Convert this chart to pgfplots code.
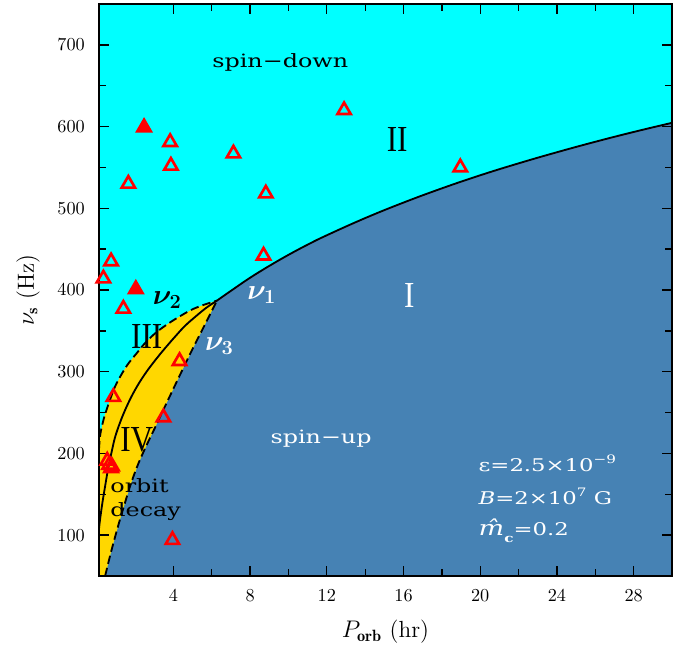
\documentclass[border=0pt]{standalone}
\usepackage{fontspec}
\usepackage{bm}
\usepackage{pgfplots}
\pgfplotsset{compat=1.18}
\newfontfamily\sm{DejaVu Serif}[FakeStretch=1.3]
\newfontfamily\rn{Liberation Serif}[FakeStretch=0.85]
\definecolor{cyanbg}{RGB}{0,255,255}
\definecolor{steel}{RGB}{70,130,180}
\definecolor{gold}{RGB}{255,215,0}

% boundary nu_1 (spin-up / spin-down)
\pgfplotstableread{
x y
6.27 387
7 399
8 415
9 429.5
10 443
11 455.5
12 467
14 488
16 507
18 524.4
20 540.4
22 555
24 568.6
26 581.4
28 593.4
30 604.6
}\nuone
% solid nu_2
\pgfplotstableread{
x y
0.12 108
0.18 120
0.3 140
0.44 160
0.6 182
0.79 203
0.96 220
1.22 238
1.48 253
1.8 269
2.18 285
2.6 300
3.05 314
3.5 327
4.09 343
4.6 356
5.13 367
5.7 378
6.27 387
}\nutwo
% upper dashed edge of the yellow band
\pgfplotstableread{
x y
0.12 205
0.18 222
0.3 236
0.44 248
0.7 266
0.96 282
1.3 297
1.65 310
2.1 323
2.52 335
3.1 348
3.74 359
4.35 368
4.96 376
5.6 382
6.27 387
}\upper
% lower dashed edge nu_3
\pgfplotstableread{
x y
0.44 50
0.7 75
0.96 98
1.2 118
1.48 140
1.8 164
2.18 188
2.6 210
3.05 232
3.57 258
4.26 292
4.96 326
5.65 358
6.27 387
}\nuthree
\pgfplotstableread{
x y
3.83 581
3.87 552
1.65 530
7.13 567
8.82 518
12.9 620
8.7 442
0.75 435
0.35 414
1.39 377
18.96 550
4.32 313
0.87 269
3.48 244
0.55 191
0.65 186
0.8 184
0.75 182
3.95 94
}\opentri
\pgfplotstableread{
x y
2.47 599
2.04 401
}\filledtri

\begin{document}
\begin{tikzpicture}
\begin{axis}[
  scale only axis,
  width=343.8pt, height=343.2pt,
  xmin=0.12, xmax=30, ymin=50, ymax=750,
  xtick={4,8,...,28}, ytick={100,200,...,700},
  minor x tick num=1, minor y tick num=1,
  tick align=inside,
  major tick length=6pt, minor tick length=4pt,
  every tick/.style={black, line width=0.8pt},
  axis line style={line width=1.2pt},
  axis background/.style={fill=cyanbg},
  axis on top,
  tick label style={font=\fontsize{11}{11}\selectfont},
  xticklabel style={yshift=-5pt},
  yticklabel style={xshift=-5pt},
  xlabel={$P_{\mathbf{orb}}$ (hr)},
  ylabel={$\nu_{\mathbf{s}}$ (Hz)},
  xlabel style={at={(axis description cs:0.5,-0.098)}, anchor=center, font=\fontsize{14}{14}\selectfont},
  ylabel style={at={(axis description cs:-0.124,0.5)}, anchor=center, font=\fontsize{14}{14}\selectfont},
]
  % spin-up region
  \addplot[fill=steel, draw=none] coordinates {
    (0.39,45) (0.44,50) (0.7,75) (0.96,98) (1.2,118) (1.48,140) (1.8,164)
    (2.18,188) (2.6,210) (3.05,232) (3.57,258) (4.26,292) (4.96,326)
    (5.65,358) (6.27,387) (7,399) (8,415) (9,429.5) (10,443) (11,455.5)
    (12,467) (14,488) (16,507) (18,524.4) (20,540.4) (22,555) (24,568.6)
    (26,581.4) (28,593.4) (30,604.6) (30.5,607) (30.5,45)
  } -- cycle;
  % orbit decay band
  \addplot[fill=gold, draw=none] coordinates {
    (0,45) (0,200) (0.12,205) (0.18,222) (0.3,236) (0.44,248) (0.7,266)
    (0.96,282) (1.3,297) (1.65,310) (2.1,323) (2.52,335) (3.1,348)
    (3.74,359) (4.35,368) (4.96,376) (5.6,382) (6.27,387)
    (5.65,358) (4.96,326) (4.26,292) (3.57,258) (3.05,232) (2.6,210)
    (2.18,188) (1.8,164) (1.48,140) (1.2,118) (0.96,98) (0.7,75)
    (0.44,50) (0.39,45)
  } -- cycle;

  \addplot[black, line width=1.1pt, smooth, tension=0.7] table {\nuone};
  \addplot[black, line width=1.1pt, smooth, tension=0.6] table {\nutwo};
  \addplot[black, line width=1.1pt, smooth, tension=0.6, dash pattern=on 5pt off 2.5pt] table {\upper};
  \addplot[black, line width=1.1pt, smooth, tension=0.6, dash pattern=on 5pt off 2.5pt] table {\nuthree};

  \node[font=\sm\fontsize{11}{13}\selectfont] at (axis cs:9.57,678) {spin−down};
  \node[font=\sm\fontsize{11}{13}\selectfont, white] at (axis cs:11.7,218) {spin−up};
  \node[font=\sm\fontsize{11}{14.4}\selectfont, align=left, anchor=west, inner sep=0pt]
    at (axis cs:0.70,143) {orbit\\decay};

  \node[font=\rn\fontsize{22}{22}\selectfont] at (axis cs:15.67,584) {II};
  \node[font=\rn\fontsize{22}{22}\selectfont, white] at (axis cs:16.3,393) {I};
  \node[font=\rn\fontsize{22}{22}\selectfont] at (axis cs:2.61,343) {III};
  \node[font=\rn\fontsize{22}{22}\selectfont] at (axis cs:2.09,217) {IV};

  \node[font=\LARGE] at (axis cs:3.68,388) {$\bm{\nu}_{\bm{2}}$};
  \node[font=\LARGE, white] at (axis cs:8.61,394) {$\bm{\nu}_{\bm{1}}$};
  \node[font=\LARGE, white] at (axis cs:6.4,331) {$\bm{\nu}_{\bm{3}}$};

  \node[font=\sm\fontsize{10.5}{12}\selectfont, white, anchor=west, inner sep=0pt]
    at (axis cs:19.9,188) {ε=2.5×10\raisebox{0.9ex}{\fontsize{7}{7}\selectfont −9}};
  \node[font=\sm\fontsize{10.5}{12}\selectfont, white, anchor=west, inner sep=0pt]
    at (axis cs:19.9,147) {\textit{B}=2×10\raisebox{0.9ex}{\fontsize{7}{7}\selectfont 7} G};
  \node[font=\sm\fontsize{10.5}{12}\selectfont, white, anchor=west, inner sep=0pt]
    at (axis cs:19.9,105) {{\fontsize{12.5}{13}\selectfont\textit{m̂}}\raisebox{-0.8ex}{\fontsize{7}{7}\selectfont\bfseries c}=0.2};

  \addplot[only marks, mark=triangle, mark size=4.6pt, red, line width=1.6pt] table {\opentri};
  \addplot[only marks, mark=triangle*, mark size=4.6pt, red, line width=1.6pt] table {\filledtri};
\end{axis}
\path ([xshift=-59.4pt,yshift=-48pt]current axis.south west) rectangle ([xshift=10.8pt,yshift=2.4pt]current axis.north east);
\end{tikzpicture}
\end{document}
